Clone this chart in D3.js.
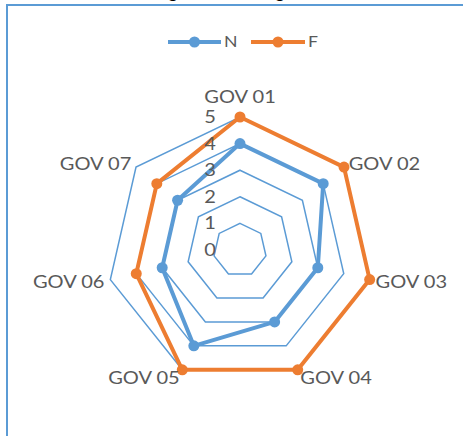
<!DOCTYPE html>
<html><head><meta charset="utf-8">
<script src="https://cdn.jsdelivr.net/npm/d3@7"></script>
<style>
html,body{margin:0;padding:0;background:#fff;}
svg{display:block;}
text{font-family:"Lato","Open Sans",sans-serif;}
</style></head>
<body>
<script>
const categories = ["GOV 01","GOV 02","GOV 03","GOV 04","GOV 05","GOV 06","GOV 07"];
const seriesN = [4,4,3,3,4,3,3];
const seriesF = [5,5,5,5,5,4,4];
const seriesNames = ["N","F"];
const tickValues = [0,1,2,3,4,5];
const ringValues = [1,2,3,4,5];

const W = 463, H = 436;
const cx = 240, cy = 250, R = 133;
const blue = "#5B9BD5", orange = "#ED7D31", grey = "#595959";
const SX = 1.18, FS = 17;

const svg = d3.select("body").append("svg").attr("width", W).attr("height", H);

// frame
svg.append("path").attr("d", `M7,${H} L7,5 L${W},5`).attr("fill","none").attr("stroke",blue).attr("stroke-width",2);
// cut-off caption descenders from the figure above
svg.append("text").attr("x",173).attr("y",-2).attr("text-anchor","middle").attr("font-family","Liberation Serif").attr("font-size",18).attr("fill","#000").text("g");
svg.append("text").attr("x",280).attr("y",-2).attr("text-anchor","middle").attr("font-family","Liberation Serif").attr("font-size",18).attr("fill","#000").text("g");

function label(parent, x, y, anchor, str, size) {
  return parent.append("text")
    .attr("transform", `translate(${x},${y}) scale(${SX},1)`)
    .attr("text-anchor", anchor).attr("dy","0.35em")
    .attr("font-size", size || FS).attr("fill", grey).text(str);
}

const r = d3.scaleLinear().domain([0,5]).range([0,R]);
const angle = d3.scalePoint().domain(categories).range([0, 2*Math.PI*(categories.length-1)/categories.length]);
const pt = (c, v) => [cx + r(v)*Math.sin(angle(c)), cy - r(v)*Math.cos(angle(c))];

const g = svg.append("g");
// grid rings
ringValues.forEach(v => {
  g.append("path")
    .attr("d", d3.line()(categories.map(c => pt(c, v))) + "Z")
    .attr("fill","none").attr("stroke",blue).attr("stroke-width",1.5);
});

// series
const series = [{name:"N", vals:seriesN, color:blue},{name:"F", vals:seriesF, color:orange}];
series.forEach(s => {
  const pts = categories.map((c,i) => pt(c, s.vals[i]));
  g.append("path").attr("d", d3.line()(pts) + "Z")
    .attr("fill","none").attr("stroke",s.color).attr("stroke-width",4).attr("stroke-linejoin","round");
  g.selectAll(null).data(pts).enter().append("circle")
    .attr("cx", d=>d[0]).attr("cy", d=>d[1]).attr("r",5.5).attr("fill",s.color);
});

// tick labels
tickValues.forEach(v => label(g, cx-24, cy - r(v), "end", v));

// category labels
categories.forEach(c => {
  const a = angle(c);
  const [x,y] = pt(c, 5 + 6/(R/5));
  if (Math.abs(Math.sin(a)) < 0.01) {
    label(g, x, cy - R - 20, "middle", c);
  } else {
    label(g, x, y + (Math.cos(a) < -0.5 ? 3 : 1), Math.sin(a) > 0 ? "start" : "end", c);
  }
});

// legend
const leg = svg.append("g");
const legItems = [{name:seriesNames[0], color:blue, x0:168, x1:221},{name:seriesNames[1], color:orange, x0:251, x1:305}];
legItems.forEach(l => {
  leg.append("line").attr("x1",l.x0).attr("x2",l.x1).attr("y1",42).attr("y2",42).attr("stroke",l.color).attr("stroke-width",4);
  leg.append("circle").attr("cx",(l.x0+l.x1)/2).attr("cy",42).attr("r",5.5).attr("fill",l.color);
  label(leg, l.x1+3, 42, "start", l.name, 15);
});
</script>
</body></html>
